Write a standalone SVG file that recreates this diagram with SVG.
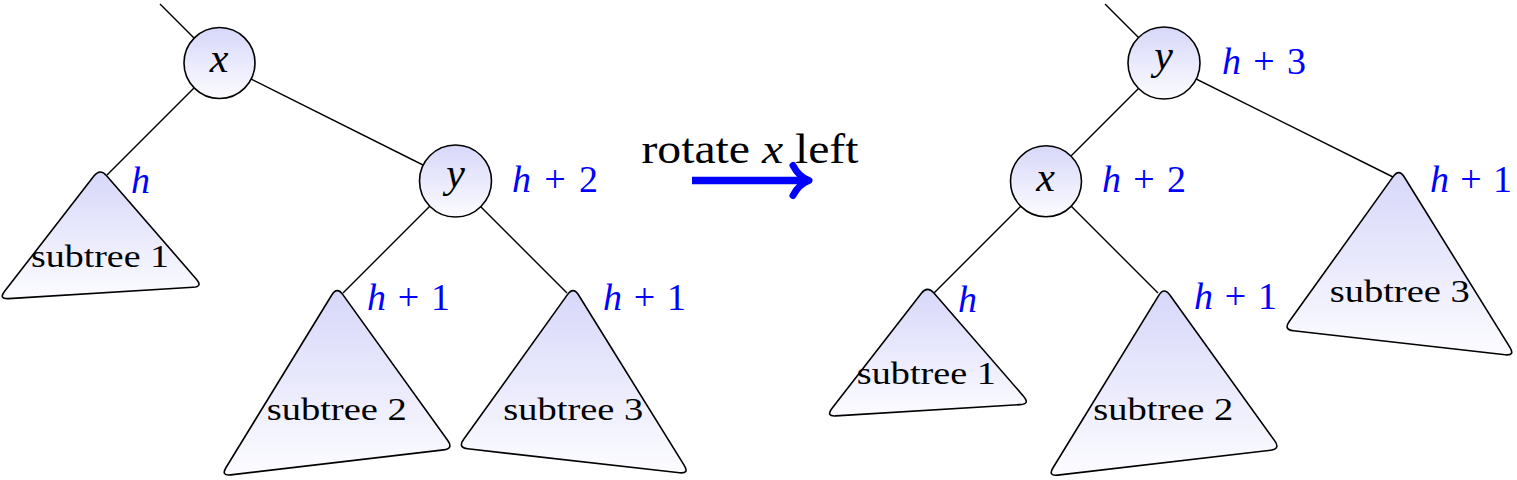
<svg xmlns="http://www.w3.org/2000/svg" xmlns:xlink="http://www.w3.org/1999/xlink" width="1517" height="480" viewBox="0 0 1517 480">
<style>
.edge{stroke:#000;stroke-width:1.4;fill:none}
.node{fill:url(#g);stroke:#000;stroke-width:1.6}
.tri{fill:url(#g);stroke:#000;stroke-width:1.6}
.lbl{font-family:"Liberation Serif",serif;font-style:italic;font-size:42px;fill:#000;text-anchor:middle}
.st{font-family:"Liberation Serif",serif;font-size:32px;fill:#000;text-anchor:middle}
.h{font-family:"Liberation Serif",serif;font-size:38px;fill:#0000ff}
.h tspan.i{font-style:italic}
.cap{font-family:"Liberation Serif",serif;font-size:42px;fill:#000;text-anchor:middle}
</style>
<defs>
<linearGradient id="g" x1="0" y1="0" x2="0" y2="1">
<stop offset="0" stop-color="#d7d7fa"/>
<stop offset="1" stop-color="#fcfcff"/>
</linearGradient>
<path id="t1" class="tri" d="M6.6,3.05 L96.4,106.45 Q103,114 93,114.6 L-91.5,125.9 Q-101.5,126.5 -95.4,118.6 L-6.1,3.4 Q0,-4.5 6.6,3.05 Z"/>
<path id="t2" class="tri" d="M5.84,3.92 L110.76,149.88 Q116.6,158 106.67,159.17 L-106.27,184.14 Q-116.2,185.3 -110.97,176.78 L-5.23,4.33 Q0,-4.2 5.84,3.92 Z"/>
<path id="t3" class="tri" d="M5.27,4.3 L110.93,174.7 Q116.2,183.2 106.26,182.08 L-105.66,158.12 Q-115.6,157 -109.770,148.88 L-5.83,3.93 Q0,-4.2 5.27,4.3 Z"/>
</defs>
<rect width="1517" height="480" fill="#fff"/>
<g id="connectors">
<line class="edge" x1="160" y1="4" x2="219" y2="63"/>
<line class="edge" x1="219" y1="63" x2="107" y2="175"/>
<line class="edge" x1="219" y1="63" x2="455" y2="181"/>
<line class="edge" x1="455" y1="181" x2="343" y2="293"/>
<line class="edge" x1="455" y1="181" x2="567" y2="293"/>
<line class="edge" x1="1105" y1="4" x2="1164" y2="63"/>
<line class="edge" x1="1164" y1="63" x2="1046" y2="181"/>
<line class="edge" x1="1164" y1="63" x2="1393" y2="177"/>
<line class="edge" x1="1046" y1="181" x2="934" y2="293"/>
<line class="edge" x1="1046" y1="181" x2="1158" y2="293"/>
</g>
<g id="left-x">
<circle class="node" cx="219.5" cy="63" r="35.5"/>
<text class="lbl" x="219" y="72">x</text>
</g>
<g id="left-y">
<circle class="node" cx="455.5" cy="181" r="36"/>
<text class="lbl" x="455.5" y="186.5">y</text>
<text class="h" x="512" y="191.5" textLength="86"><tspan class="i">h</tspan> + 2</text>
</g>
<g id="left-subtree1">
<use xlink:href="#t1" x="100" y="172.7"/>
<text class="st" x="100" y="266.7" textLength="138" lengthAdjust="spacingAndGlyphs">subtree 1</text>
<text class="h" x="131" y="193.3"><tspan class="i">h</tspan></text>
</g>
<g id="left-subtree2">
<use xlink:href="#t2" x="337" y="290.7"/>
<text class="st" x="336.7" y="420" textLength="140" lengthAdjust="spacingAndGlyphs">subtree 2</text>
<text class="h" x="367" y="310" textLength="83"><tspan class="i">h</tspan> + 1</text>
</g>
<g id="left-subtree3">
<use xlink:href="#t3" x="573.3" y="290.7"/>
<text class="st" x="573.3" y="420" textLength="140" lengthAdjust="spacingAndGlyphs">subtree 3</text>
<text class="h" x="603" y="310" textLength="83"><tspan class="i">h</tspan> + 1</text>
</g>
<g id="rotate-arrow">
<text class="cap" x="750" y="163" textLength="217" lengthAdjust="spacingAndGlyphs">rotate <tspan font-style="italic">x</tspan> left</text>
<line x1="692" y1="180.5" x2="805" y2="180.5" stroke="#0000ff" stroke-width="7.5"/>
<path d="M793,165.5 Q799,177 809,180.5 Q799,184 793,195.5" fill="none" stroke="#0000ff" stroke-width="7" stroke-linecap="round" stroke-linejoin="round"/>
</g>
<g id="right-y">
<circle class="node" cx="1164" cy="63" r="36"/>
<text class="lbl" x="1163.5" y="69">y</text>
<text class="h" x="1222" y="74" textLength="84"><tspan class="i">h</tspan> + 3</text>
</g>
<g id="right-x">
<circle class="node" cx="1046" cy="181.3" r="35.5"/>
<text class="lbl" x="1045.5" y="190.5">x</text>
<text class="h" x="1102" y="191.7" textLength="84"><tspan class="i">h</tspan> + 2</text>
</g>
<g id="right-subtree1">
<use xlink:href="#t1" x="927.3" y="290"/>
<text class="st" x="926.3" y="384.3" textLength="139" lengthAdjust="spacingAndGlyphs">subtree 1</text>
<text class="h" x="958" y="311.7"><tspan class="i">h</tspan></text>
</g>
<g id="right-subtree2">
<use xlink:href="#t2" x="1164" y="291"/>
<text class="st" x="1163.3" y="420" textLength="140" lengthAdjust="spacingAndGlyphs">subtree 2</text>
<text class="h" x="1194" y="309.3" textLength="83"><tspan class="i">h</tspan> + 1</text>
</g>
<g id="right-subtree3">
<use xlink:href="#t3" x="1399" y="172.7"/>
<text class="st" x="1399.7" y="301.7" textLength="140" lengthAdjust="spacingAndGlyphs">subtree 3</text>
<text class="h" x="1430" y="191.7" textLength="82"><tspan class="i">h</tspan> + 1</text>
</g>
</svg>
